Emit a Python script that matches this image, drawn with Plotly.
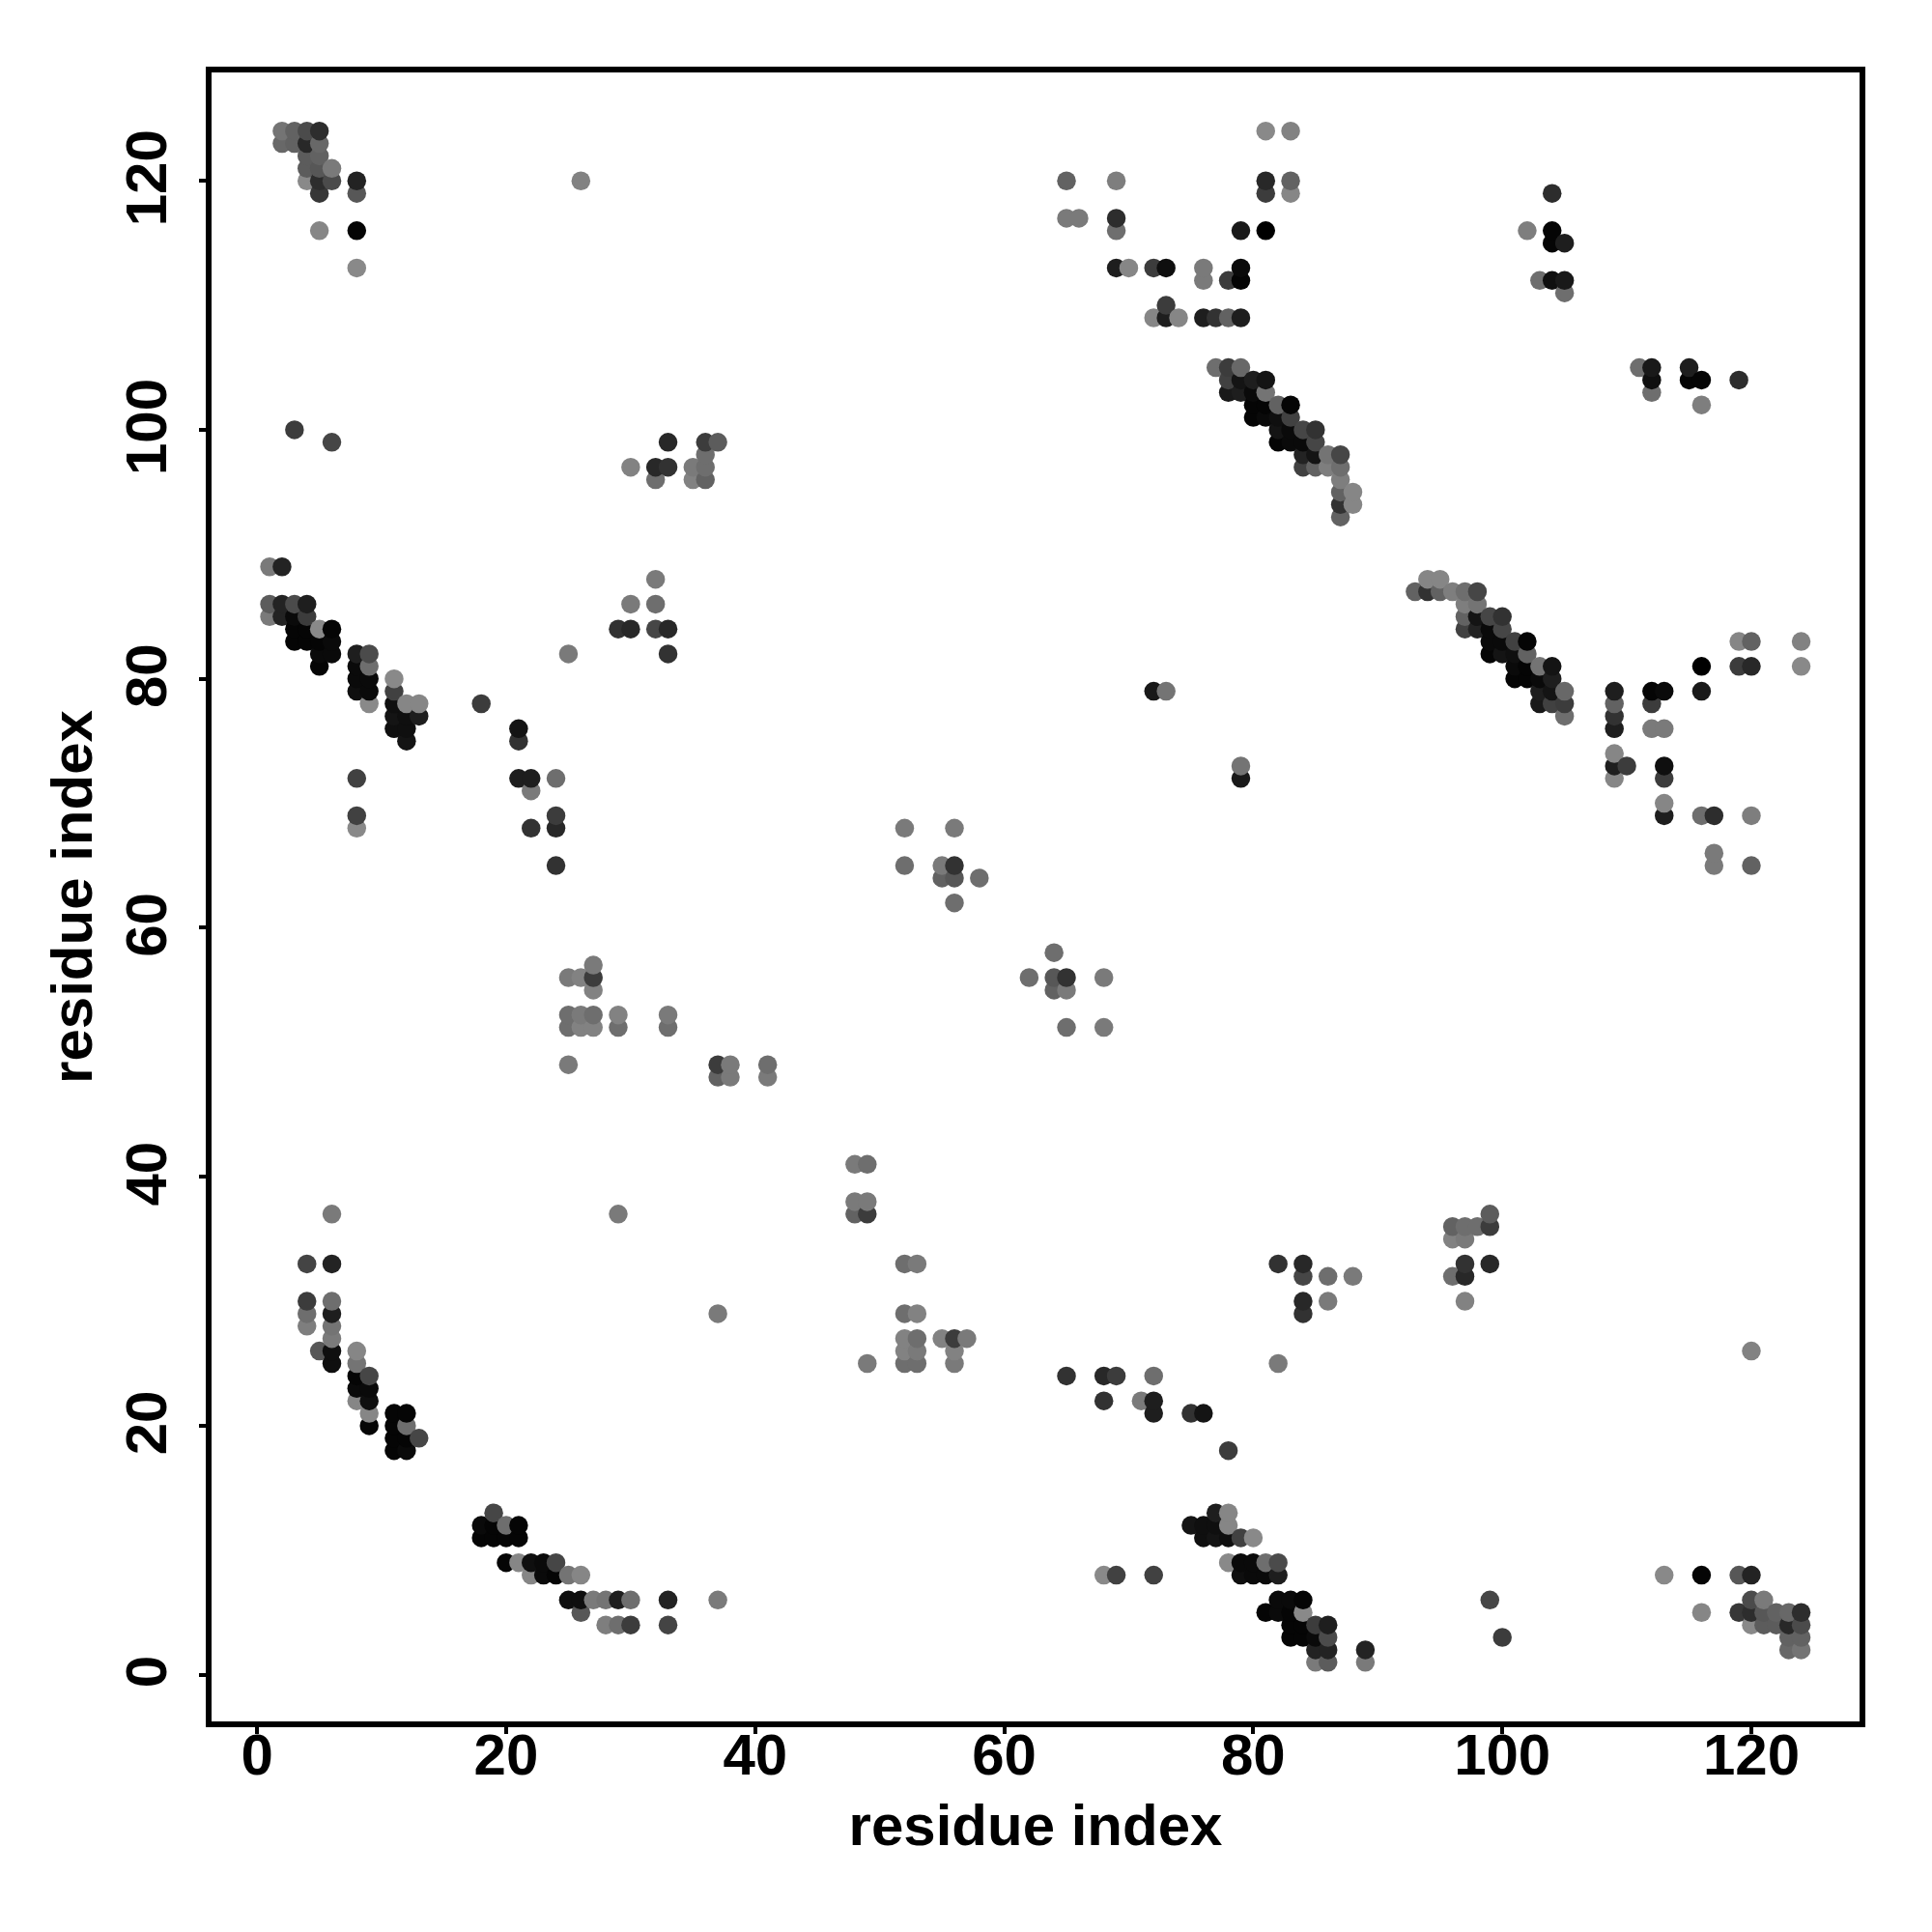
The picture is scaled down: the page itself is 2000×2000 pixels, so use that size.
import plotly.graph_objects as go

residue_i = [
    1, 1, 1,
    2, 2, 2, 2, 2,
    3, 3, 3, 3, 3, 3, 3,
    4, 4, 4, 4, 4, 4, 4, 4, 4, 4, 4, 4, 4,
    5, 5, 5, 5, 5, 5, 5, 5, 5, 5, 5, 5,
    6, 6, 6, 6, 6, 6, 6, 6, 6, 6, 6, 6, 6, 6,
    8, 8, 8, 8, 8, 8, 8, 8, 8, 8, 8, 8, 8, 8, 8, 8,
    9, 9, 9, 9, 9, 9, 9, 9, 9, 9,
    11, 11, 11, 11, 11, 11, 11, 11, 11,
    12, 12, 12, 12, 12, 12, 12, 12,
    13, 13, 13,
    18,
    21, 21, 21,
    22, 22, 22,
    24, 24, 24, 24,
    25, 25, 25, 25, 25,
    26, 26, 26, 26,
    27, 27, 27, 27, 27,
    29, 29, 29, 29,
    30, 30, 30,
    32, 32, 32, 32, 32,
    33, 33, 33, 33, 33, 33,
    35, 35,
    36, 36, 36, 36,
    37, 37, 37,
    38, 38,
    41, 41,
    52, 52,
    55, 55,
    56, 56, 56, 56,
    58,
    65, 65,
    66,
    69, 69, 69, 69,
    70,
    72, 72, 72,
    73, 73, 73, 73,
    74,
    76, 76, 76,
    77, 77,
    78, 78, 78, 78, 78,
    79, 79, 79, 79, 79, 79, 79,
    80, 80, 80, 80,
    81, 81, 81, 81, 81, 81, 81, 81,
    82, 82, 82, 82,
    83, 83, 83, 83, 83, 83, 83,
    84, 84, 84, 84,
    85, 85, 85, 85,
    86, 86,
    87, 87, 87, 87, 87, 87,
    88, 88,
    102,
    103,
    104, 104, 104, 104,
    105, 105, 105,
]
residue_j = [
    85, 86, 89,
    85, 86, 89, 123, 124,
    83, 84, 85, 86, 100, 123, 124,
    28, 29, 30, 33, 83, 84, 85, 86, 120, 121, 122, 123, 124,
    26, 81, 82, 83, 84, 116, 119, 120, 121, 122, 123, 124,
    25, 26, 27, 28, 29, 30, 33, 37, 82, 83, 84, 99, 120, 121,
    22, 23, 24, 25, 26, 68, 69, 72, 79, 80, 81, 82, 113, 116, 119, 120,
    20, 21, 22, 23, 24, 78, 79, 80, 81, 82,
    18, 19, 20, 21, 76, 77, 78, 79, 80,
    18, 19, 20, 21, 75, 76, 77, 78,
    19, 77, 78,
    78,
    72, 75, 76,
    68, 71, 72,
    65, 68, 69, 72,
    49, 52, 53, 56, 82,
    52, 53, 56, 120,
    52, 53, 55, 56, 57,
    37, 52, 53, 84,
    84, 86, 97,
    84, 86, 88, 96, 97,
    52, 53, 82, 84, 97, 99,
    96, 97,
    96, 97, 98, 99,
    48, 49, 99,
    48, 49,
    48, 49,
    65, 68,
    64, 65,
    62, 64, 65, 68,
    64,
    117, 120,
    117,
    113, 116, 117, 120,
    113,
    79, 109, 113,
    79, 109, 110, 113,
    109,
    109, 112, 113,
    105, 109,
    103, 104, 105, 109, 112,
    103, 104, 105, 109, 112, 113, 116,
    101, 102, 103, 104,
    101, 102, 103, 104, 116, 119, 120, 124,
    99, 100, 101, 102,
    99, 100, 101, 102, 119, 120, 124,
    97, 98, 99, 100,
    97, 98, 99, 100,
    97, 98,
    93, 94, 95, 96, 97, 98,
    94, 95,
    116,
    112,
    112, 115, 116, 119,
    111, 112, 115,
]
gray_level = [
    122, 92, 122,
    35, 35, 35, 104, 116,
    5, 5, 10, 75, 60, 98, 98,
    126, 110, 60, 68, 5, 5, 60, 30, 137, 92, 92, 40, 75,
    87, 5, 10, 5, 137, 134, 55, 45, 87, 98, 104, 45,
    15, 15, 122, 116, 30, 110, 35, 122, 10, 10, 5, 70, 75, 122,
    134, 10, 5, 116, 134, 137, 65, 65, 15, 10, 10, 30, 137, 5, 87, 35,
    5, 134, 15, 10, 70, 137, 10, 10, 110, 75,
    5, 5, 5, 5, 15, 20, 15, 65, 137,
    10, 5, 110, 5, 20, 15, 15, 134,
    70, 30, 134,
    60,
    30, 50, 20,
    50, 122, 30,
    50, 40, 60, 110,
    122, 110, 110, 122, 122,
    130, 122, 130, 130,
    130, 110, 130, 60, 122,
    122, 110, 130, 50,
    40, 122, 130,
    70, 110, 122, 110, 40,
    110, 122, 50, 40, 50, 40,
    130, 122,
    98, 110, 110, 60,
    98, 60, 92,
    122, 122,
    122, 110,
    110, 122,
    98, 122,
    110, 87, 50, 122,
    110,
    122, 98,
    122,
    30, 110, 45, 126,
    134,
    25, 134, 60,
    116, 30, 60, 15,
    134,
    30, 122, 122,
    110, 50,
    25, 65, 60, 98, 60,
    30, 20, 104, 30, 5, 10, 25,
    5, 5, 10, 30,
    10, 5, 116, 20, 0, 60, 40, 137,
    5, 20, 15, 98,
    10, 10, 65, 5, 134, 98, 130,
    65, 35, 10, 70,
    98, 20, 70, 50,
    126, 116,
    98, 50, 98, 126, 110, 70,
    134, 134,
    126,
    110,
    15, 5, 5, 45,
    110, 25, 30,
]

tick_values = [0, 20, 40, 60, 80, 100, 120]
x_title = "residue index"
y_title = "residue index"

# The contact map is symmetric; draw both halves, in column then row order.
points = sorted(
    [(i, j, g) for i, j, g in zip(residue_i, residue_j, gray_level)]
    + [(j, i, g) for i, j, g in zip(residue_i, residue_j, gray_level)]
)
xs = [p[0] for p in points]
ys = [p[1] for p in points]
colors = [f"rgb({p[2]},{p[2]},{p[2]})" for p in points]

fig = go.Figure(
    go.Scatter(
        x=xs, y=ys, mode="markers",
        marker=dict(size=19.5, color=colors, line=dict(width=0)),
        showlegend=False, hoverinfo="skip",
    )
)

label_font = dict(family="Liberation Sans", size=60, color="black", weight="bold")
axis_style = dict(
    tickmode="array",
    tickvals=tick_values,
    ticktext=[str(v) for v in tick_values],
    ticks="outside",
    ticklen=7,
    tickwidth=4,
    tickcolor="black",
    showline=True,
    linecolor="black",
    linewidth=6,
    mirror=True,
    showgrid=False,
    zeroline=False,
    tickfont=label_font,
)
fig.update_xaxes(
    **axis_style,
    range=[-3.66, 128.69],
    ticklabelstandoff=-30,
    title=dict(text=x_title, standoff=21, font=label_font),
)
fig.update_yaxes(
    **axis_style,
    range=[-3.75, 128.71],
    tickangle=-90,
    ticklabelstandoff=10,
    ticklabelshift=6,
    title=dict(text=y_title, standoff=5, font=label_font),
)
fig.update_layout(
    width=2000, height=2000, autosize=False,
    margin=dict(l=211, r=83, t=67, b=226, pad=0),
    paper_bgcolor="white", plot_bgcolor="white",
)
fig.write_html("out.html")
